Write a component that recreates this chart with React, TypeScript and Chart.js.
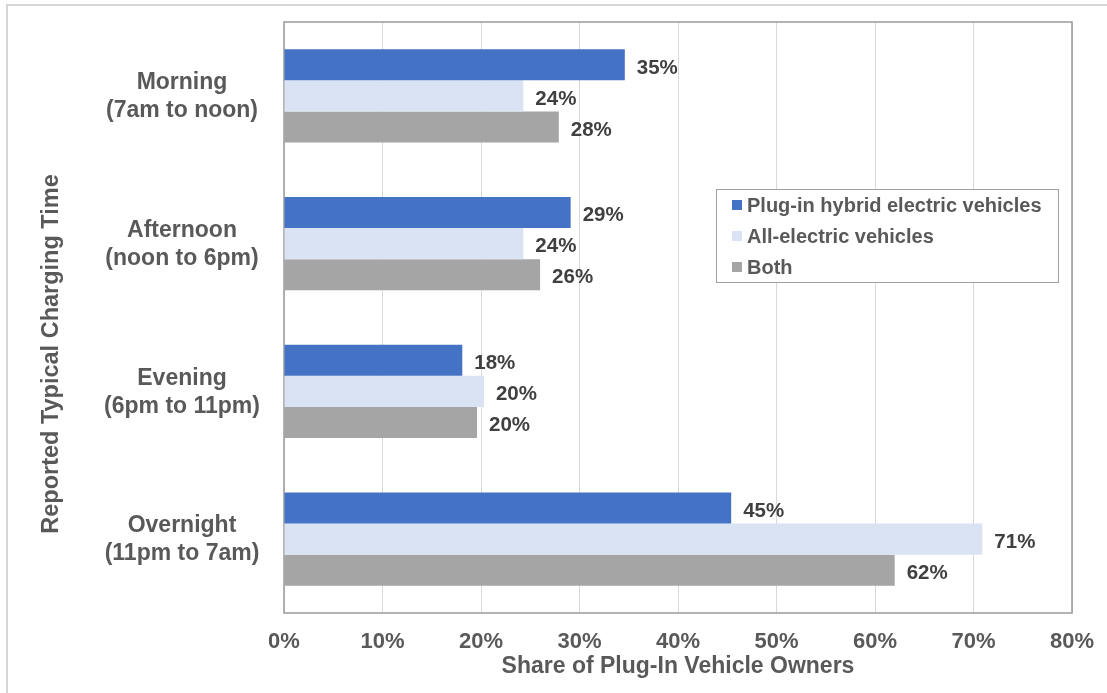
import React, { useEffect, useRef } from "react";
import { Chart, registerables } from "chart.js";

Chart.register(...registerables);

const categories = [
  ["Morning", "(7am to noon)"],
  ["Afternoon", "(noon to 6pm)"],
  ["Evening", "(6pm to 11pm)"],
  ["Overnight", "(11pm to 7am)"],
];
const seriesNames = ["Plug-in hybrid electric vehicles", "All-electric vehicles", "Both"];
const phevValues = [34.6, 29.1, 18.1, 45.4];
const aevValues = [24.3, 24.3, 20.3, 70.9];
const bothValues = [27.9, 26.0, 19.6, 62.0];
const seriesColors = ["#4472C4", "#DAE3F3", "#A5A5A5"];
const xTicks = [0, 10, 20, 30, 40, 50, 60, 70, 80];
const xTitle = "Share of Plug-In Vehicle Owners";
const yTitle = "Reported Typical Charging Time";

const FONT = '"Liberation Sans", Arial, sans-serif';
const TEXT = "#595959";

const customPlugin = {
  id: "custom",
  beforeDraw(chart: any) {
    const ctx = chart.ctx;
    ctx.save();
    ctx.strokeStyle = "#d6d6d6";
    ctx.lineWidth = 2;
    ctx.beginPath();
    ctx.moveTo(7, 693);
    ctx.lineTo(7, 5);
    ctx.lineTo(1107, 5);
    ctx.stroke();
    ctx.restore();
  },
  beforeDatasetsDraw(chart: any) {
    const { ctx, chartArea } = chart;
    ctx.save();
    ctx.strokeStyle = "#9a9a9a";
    ctx.lineWidth = 1.5;
    ctx.strokeRect(chartArea.left, chartArea.top, chartArea.right - chartArea.left, chartArea.bottom - chartArea.top);
    ctx.restore();
  },
  afterDatasetsDraw(chart: any) {
    const { ctx } = chart;
    ctx.save();
    // data labels
    ctx.font = `bold 20.5px ${FONT}`;
    ctx.fillStyle = "#404040";
    ctx.textAlign = "left";
    ctx.textBaseline = "middle";
    chart.data.datasets.forEach((ds: any, di: number) => {
      const meta = chart.getDatasetMeta(di);
      meta.data.forEach((el: any, i: number) => {
        ctx.fillText(Math.round(ds.data[i]) + "%", el.x + 12, el.y + 3);
      });
    });
    // category labels
    const yScale = chart.scales.y;
    ctx.font = `bold 23px ${FONT}`;
    ctx.fillStyle = TEXT;
    ctx.textAlign = "center";
    categories.forEach((lines, i) => {
      const cy = yScale.getPixelForValue(i);
      ctx.fillText(lines[0], 182, cy - 13);
      ctx.fillText(lines[1], 182, cy + 15);
    });
    // y title
    ctx.save();
    ctx.translate(52, 354);
    ctx.rotate(-Math.PI / 2);
    ctx.font = `bold 23.5px ${FONT}`;
    ctx.fillText(yTitle, 0, 0);
    ctx.restore();
    // legend
    const lx = 716, ly = 189, lw = 342, lh = 93;
    ctx.fillStyle = "#ffffff";
    ctx.fillRect(lx, ly, lw, lh);
    ctx.strokeStyle = "#a0a0a0";
    ctx.lineWidth = 1;
    ctx.strokeRect(lx + 0.5, ly + 0.5, lw, lh);
    ctx.font = `bold 20px ${FONT}`;
    ctx.textAlign = "left";
    chart.data.datasets.forEach((ds: any, di: number) => {
      const cy = 205 + di * 31;
      ctx.fillStyle = ds.backgroundColor;
      ctx.fillRect(732, cy - 5, 10, 10);
      ctx.fillStyle = TEXT;
      ctx.fillText(ds.label, 747, cy + 1);
    });
    ctx.restore();
  },
};

export default function App() {
  const ref = useRef<HTMLCanvasElement>(null);
  useEffect(() => {
    if (!ref.current) return;
    const valueSets = [phevValues, aevValues, bothValues];
    const chart = new Chart(ref.current, {
      type: "bar",
      data: {
        labels: categories.map((c) => c.join(" ")),
        datasets: seriesNames.map((name, i) => ({
          label: name,
          data: valueSets[i],
          backgroundColor: seriesColors[i],
          borderWidth: 0,
          categoryPercentage: 0.63,
          barPercentage: 1,
        })),
      },
      options: {
        indexAxis: "y",
        responsive: false,
        animation: false,
        layout: { padding: { top: 22, right: 35, left: 0, bottom: 0 } },
        plugins: { legend: { display: false }, tooltip: { enabled: false } },
        scales: {
          x: {
            min: 0,
            max: 80,
            afterBuildTicks: (s: any) => {
              s.ticks = xTicks.map((v) => ({ value: v }));
            },
            afterFit: (s: any) => {
              s.height = 80;
              s.paddingLeft = 0;
              s.paddingRight = 0;
              s.paddingTop = 0;
              s.paddingBottom = 0;
            },
            grid: { color: "#d9d9d9", lineWidth: 1, drawTicks: false },
            border: { display: false },
            ticks: {
              padding: 16,
              color: TEXT,
              font: { family: FONT, size: 22, weight: "bold" },
              callback: (v: any) => v + "%",
              maxRotation: 0,
            },
            title: {
              display: true,
              text: xTitle,
              color: TEXT,
              font: { family: FONT, size: 23, weight: "bold" },
              padding: { top: 0, bottom: 13 },
            },
          },
          y: {
            afterFit: (s: any) => {
              s.width = 284;
              s.paddingTop = 0;
              s.paddingBottom = 0;
            },
            grid: { display: false },
            border: { display: false },
            ticks: { display: false },
          },
        },
      },
      plugins: [customPlugin],
    } as any);
    return () => chart.destroy();
  }, []);
  return (
    <div style={{ position: "fixed", left: 0, top: 0, width: 1107, height: 693, background: "#fff" }}>
      <canvas ref={ref} width={1107} height={693} style={{ width: 1107, height: 693, display: "block" }} />
    </div>
  );
}
